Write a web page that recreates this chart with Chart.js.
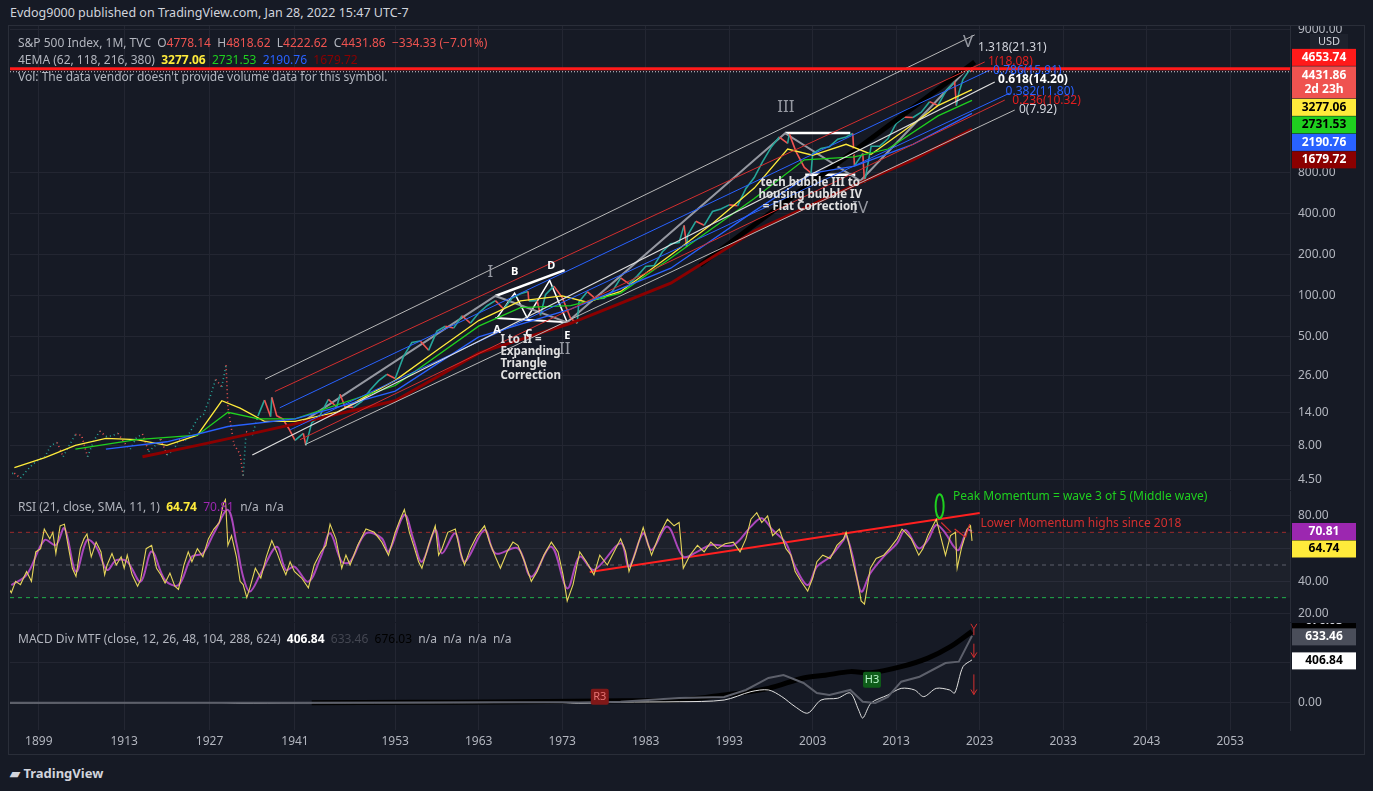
<!DOCTYPE html>
<html><head><meta charset="utf-8">
<script src="https://cdn.jsdelivr.net/npm/chart.js@4.4.1/dist/chart.umd.min.js"></script>
<style>
html,body{margin:0;padding:0;background:#161a25;width:1373px;height:791px;overflow:hidden;font-family:'Noto Sans',sans-serif;}
.cv{position:absolute;left:0;width:1373px;}
.t{position:absolute;color:#b2b5be;font-size:12px;white-space:nowrap;z-index:5;}
</style></head><body>
<div class="t" style="left:10px;top:4px;color:#d1d4dc;font-size:12.5px">Evdog9000 published on TradingView.com, Jan 28, 2022 15:47 UTC-7</div>
<div style="position:absolute;left:8px;top:25px;width:1357px;height:730px;border:1px solid #2a2e39;box-sizing:border-box;z-index:1;pointer-events:none"></div>
<div class="cv" style="top:25px;height:465px"><canvas id="cP"></canvas></div>
<div class="cv" style="top:491px;height:131px"><canvas id="cR"></canvas></div>
<div class="cv" style="top:623px;height:127px"><canvas id="cM"></canvas></div>
<div class="t" style="left:18px;top:34px">S&amp;P 500 Index, 1M, TVC&nbsp; O<span style="color:#ef5350">4778.14</span>&nbsp; H<span style="color:#ef5350">4818.62</span>&nbsp; L<span style="color:#ef5350">4222.62</span>&nbsp; C<span style="color:#ef5350">4431.86</span>&nbsp; <span style="color:#ef5350">−334.33 (−7.01%)</span></div>
<div class="t" style="left:18px;top:51px">4EMA (62, 118, 216, 380)&nbsp; <b style="color:#ffeb3b">3277.06</b>&nbsp; <span style="color:#1fd01f">2731.53</span>&nbsp; <span style="color:#2962ff">2190.76</span>&nbsp; <span style="color:#8b0000">1679.72</span></div>
<div class="t" style="left:18px;top:68px">Vol: The data vendor doesn't provide volume data for this symbol.</div>
<div class="t" style="left:18px;top:498px">RSI (21, close, SMA, 11, 1)&nbsp; <b style="color:#ffeb3b">64.74</b>&nbsp; <span style="color:#9c27b0">70.81</span>&nbsp; n/a&nbsp; n/a</div>
<div class="t" style="left:18px;top:630px">MACD Div MTF (close, 12, 26, 48, 104, 288, 624)&nbsp; <b style="color:#fff">406.84</b>&nbsp; <span style="color:#434651">633.46</span>&nbsp; <span style="color:#000">676.03</span>&nbsp; n/a&nbsp; n/a&nbsp; n/a&nbsp; n/a</div>
<div class="t" style="left:10px;top:764px;color:#d1d4dc;font-size:13px;font-weight:bold">▰ TradingView</div>
<script>
// ---------- DATA ----------
const xTickYears=[1899,1913,1927,1941,1953,1963,1973,1983,1993,2003,2013,2023,2033,2043,2053];
const priceTicks=[4.5,8,14,26,50,100,200,400,800,9000];
const priceYears=[1894,1895,1896,1897,1898,1899,1900,1901,1902,1903,1904,1905,1906,1907,1908,1909,1910,1911,1912,1913,1914,1915,1916,1917,1918,1919,1920,1921,1922,1923,1924,1925,1926,1927,1928,1929,1929.7,1930,1931,1932,1932.5,1933,1934,1935,1936,1937,1937.2,1938,1939,1940,1941,1942,1942.3,1943,1944,1945,1946,1946.4,1947,1948,1949,1950,1951,1952,1953,1954,1955,1956,1957,1958,1959,1960,1961,1962,1963,1964,1965,1966,1967,1968,1968.9,1969,1970,1970.4,1971,1972,1973,1974,1974.8,1975,1976,1977,1978,1979,1980,1981,1982,1983,1984,1985,1986,1987,1987.6,1987.9,1988,1989,1990,1991,1992,1993,1994,1995,1996,1997,1998,1999,2000,2000.2,2001,2002,2002.8,2003,2004,2005,2006,2007,2007.8,2008,2009,2009.2,2010,2011,2012,2013,2014,2015,2016,2017,2018,2019,2020,2020.2,2020.5,2021,2021.99,2022.08];
const priceValues=[4.9,5.0,4.6,5.2,5.8,6.3,6.6,8.0,8.4,6.6,8.0,9.6,9.5,6.6,8.6,10.2,9.3,9.4,9.8,8.4,7.5,9.1,9.7,7.2,7.9,8.9,6.8,7.3,8.8,8.7,10.4,12.5,13.5,17.7,24.4,21.5,31,15.3,8.1,6.9,4.8,10.1,9.5,13.4,17.2,13,18,13.2,12.5,10.6,8.7,9.8,8,11.7,13.3,17.4,15.3,19,15.3,15.2,16.8,20.4,23.8,26.6,24.8,36,45.5,46.7,39.9,55.2,59.9,58.1,71.6,63.1,75.0,84.8,92.4,80.3,96.5,103.9,108,92.1,92.2,72,102.1,118.1,97.6,68.6,63,90.2,107.5,95.1,96.1,107.9,135.8,122.6,140.6,164.9,167.2,211.3,242.2,247.1,330,230,277.7,353.4,330.2,417.1,435.7,466.5,459.3,615.9,740.7,970.4,1229.2,1469.3,1320.3,1550,1148.1,879.8,800,1111.9,1211.9,1248.3,1418.3,1468.4,1560,903.3,1115.1,680,1257.6,1257.6,1426.2,1848.4,2058.9,2043.9,2238.8,2673.6,2506.9,3230.8,3756.1,2500,3100,3900,4766.2,4431.86];
const emaYellowYears=[1895,1900,1905,1910,1915,1920,1925,1929,1932,1936,1941,1946,1953,1958,1963,1968,1973,1976,1980,1986,1991,1996,2000,2003,2007,2010,2014,2018,2022.08];
const emaYellow=[5.5,6.5,8,9,8.8,8,9.5,17,15,12,12,14,24,40,66,92,100,90,108,200,340,620,1200,1080,1300,1100,1650,2500,3277.06];
const emaGreenYears=[1905,1915,1925,1930,1935,1941,1953,1963,1968,1974,1980,1986,1996,2002,2008,2012,2018,2022.08];
const emaGreen=[7.5,8.8,9.5,14,12.5,12.5,22,60,82,85,105,190,520,1000,1050,1200,2100,2731.53];
const emaBlueYears=[1910,1920,1930,1941,1953,1963,1974,1986,1996,2003,2008,2015,2022.08];
const emaBlue=[7.5,8.5,11,12.5,20,50,80,160,420,800,900,1300,2190.76];
const emaRedYears=[1916,1925,1935,1941,1953,1963,1974,1986,1996,2008,2015,2022.08];
const emaRed=[6.6,8,10,11.5,17,38,63,124,300,650,1000,1679.72];
const fibWhite1318=[1936.1,24.5,2022.4,8260];
const fibRed1=[1937.7,19.9,2023.6,5230];
const fibBlue786=[1938.5,15.1,2024.2,4560];
const fibWhite618=[1934.0,6.8,2024.8,3730];
const fibBlue382=[1940.2,10.4,2026.6,3090];
const fibRed236=[1941.6,8.8,2026.0,2745];
const fibWhite0=[1942.2,8.1,2027.2,2320];
const blackTrend=[1989.5,169,2022.4,5230];
const waveYears=[1942,1965,1973.6,1999.7,2008.7,2021.7];
const wavePrices=[12,100,64,1570,700,4800];
const triYears=[1965.2,1967.3,1968.8,1971.5,1973.6];
const triPrices=[69,105,69,130,64];
const triUpper=[1965.0,100,1973.3,155];
const triLower=[1965.0,69,1973.6,64];
const flatUpper=[1999.7,1570,2007.5,1570];
const flatLower=[2002.1,775,2008.1,775];
const priceLevels=[4653.74,4431.86];
const priceTexts=[
 [1964.4,150,'I','#9598a1','normal 17px'],[1967.3,150,'B','#fff','bold 11px'],[1971.7,166,'D','#fff','bold 11px'],
 [1965.2,56.3,'A','#fff','bold 11px'],[1969.0,52.4,'C','#fff','bold 11px'],[1973.6,50.6,'E','#fff','bold 11px'],
 [1973.3,41,'II','#9598a1','normal 17px'],[1999.8,2444,'III','#9598a1','normal 17px'],[2008.7,443,'IV','#9598a1','normal 17px'],[2021.6,7350,'V','#9598a1','normal 17px']];
const multiTexts=[[1965.6,47.6,['I to II =','Expanding','Triangle','Correction'],'left'],[2002.7,676,['tech bubble III to','housing bubble IV','= Flat Correction'],'center']];
const fibTexts=[[2022.8,6720,'1.318(21.31)','#d1d4dc'],[2024.0,5230,'1(18.08)','#e01e1e'],[2024.6,4490,'0.786(15.91)','#2962ff'],[2025.2,3860,'0.618(14.20)','#ffffff'],[2026.1,3150,'0.382(11.80)','#2962ff'],[2026.9,2745,'0.236(10.32)','#e01e1e'],[2027.7,2320,'0(7.92)','#d1d4dc']];
// RSI
const rsiTicks=[20,40,60,80];
const rsiSmaYears=[1894.5,1897.0,1899.95,1901.8,1903.2,1905.1,1906.9,1908.4,1910.2,1911.7,1913.5,1915.7,1917.5,1919.7,1921.9,1924.1,1925.9,1927.7,1930.0,1931.4,1932.5,1933.6,1935.4,1938.0,1939.5,1940.9,1942.6,1944.1,1945.2,1946.6,1947.6,1949.5,1951.4,1952.2,1954.1,1955.2,1956.2,1957.8,1958.6,1960.2,1961.3,1963.7,1965.0,1967.7,1969.3,1971.7,1973.6,1975.1,1976.8,1980.0,1981.0,1982.7,1983.7,1985.6,1987.5,1989.2,1990.8,1993.5,1995.6,1996.9,1998.2,1999.8,2000.9,2002.4,2003.5,2005.1,2006.7,2007.0,2007.8,2008.8,2009.9,2011.5,2013.1,2014.1,2015.7,2016.8,2017.8,2018.9,2019.9,2020.5,2021.5,2022.08];
const rsiSma=[37.7,43.9,65.3,62.2,72.5,45.9,65.3,61.2,47,53,52,39.8,58.2,40.8,37.7,55.1,57.1,69.4,83.7,63.3,42.8,33.7,44.9,61.2,47,49,39.8,55.1,69.4,52,52,69.4,66.3,58.2,80.6,65.3,52,71.4,57.1,69.4,52,71.4,57.1,60.2,42.8,61.2,35.7,55.1,47,63.3,49,69.4,59.2,73.5,55.1,58.2,62.2,62.2,73.5,78.6,71.4,63.3,49,37.7,49,55.1,65.3,68.4,55.1,33.7,44.9,55.1,63.3,71.4,60.2,65.3,74.5,69.4,61.2,59.2,71.4,70.81];
const rsiYears=[1894.0,1894.5,1895.2,1896,1897,1897.8,1898.5,1899.3,1899.9,1900.8,1901.3,1901.8,1902.5,1903.2,1903.8,1904.5,1905.1,1905.8,1906.4,1906.9,1907.6,1908.4,1909.2,1909.8,1910.2,1911,1911.7,1912.5,1913,1913.5,1914.3,1915.2,1915.7,1916.6,1917.5,1918.3,1919,1919.7,1920.5,1921.3,1921.9,1922.8,1923.5,1924.1,1925,1925.9,1926.8,1927.7,1928.6,1929.3,1929.6,1930.0,1930.6,1931.4,1932.0,1932.5,1933.1,1933.6,1934.5,1935.4,1936.3,1937.2,1938.0,1938.8,1939.5,1940.2,1940.9,1941.8,1942.6,1943.3,1944.1,1944.7,1945.2,1945.9,1946.6,1947.1,1947.6,1948.5,1949.5,1950.5,1951.4,1952.2,1953.0,1953.6,1954.1,1954.7,1955.2,1955.8,1956.2,1957.0,1957.8,1958.2,1958.6,1959.3,1960.2,1960.8,1961.3,1962,1962.8,1963.7,1964.3,1965.0,1965.6,1966.4,1967.1,1967.7,1968.5,1969.3,1970.0,1970.8,1971.7,1972.5,1973.1,1973.6,1974.3,1975.1,1975.9,1976.8,1977.5,1978.4,1979.2,1980.0,1980.6,1981.0,1981.8,1982.7,1983.2,1983.7,1984.6,1985.6,1986.4,1987.0,1987.5,1988.3,1989.2,1990.0,1990.8,1991.6,1992.5,1993.5,1994.3,1995.0,1995.6,1996.3,1996.9,1997.6,1998.2,1999.0,1999.8,2000.4,2000.9,2001.6,2002.4,2003.0,2003.5,2004.2,2005.1,2005.9,2006.7,2007.0,2007.4,2007.8,2008.4,2008.8,2009.2,2009.9,2010.6,2011.5,2012.2,2013.1,2013.7,2014.1,2014.8,2015.7,2016.2,2016.8,2017.4,2017.8,2018.2,2018.9,2019.5,2020.1,2020.3,2020.8,2021.5,2021.9,2022.08];
const rsiValues=[36,33,40,38,46,40,58,60,72,66,70,57,74,75,62,48,43,60,66,69,55,64,58,44,50,57,50,55,48,56,44,37,41,60,62,48,44,39,45,37,35,50,58,52,60,55,66,72,76,88,90,62,68,55,40,38,30,36,48,42,55,65,58,50,44,52,46,42,36,50,58,62,75,66,48,56,50,62,72,70,64,56,70,78,84,70,62,52,48,62,74,56,60,70,72,58,50,60,68,74,64,55,48,58,64,62,52,40,46,56,64,58,44,28,38,58,52,44,56,50,58,66,58,46,58,73,64,56,68,78,74,76,48,56,62,58,64,60,63,64,58,66,78,82,76,80,68,72,60,56,46,40,34,42,52,56,54,62,66,70,62,52,40,28,26,48,54,56,60,66,72,70,66,56,60,68,74,78,70,56,68,70,48,60,72,74,64.74];
const rsiTrend=[1976.3,45.7,2023.0,81.8];
const rsiLevels=[70,50,30];
// MACD
const macdTicks=[0,380];
const macdBlackYears=[1943,1955,1965,1977.5,1987,1992.4,1997.7,2001.9,2004.5,2007.5,2010,2013.6,2016.8,2019.5,2022.08];
const macdBlack=[3,6,10,19,28,75,138,236,262,296,286,343,424,531,676.03];
const macdGrayYears=[1894,1920,1941,1955,1965,1973,1975,1980,1987,1992.4,1995,1997.7,1999.5,2001.9,2003.5,2005,2007.5,2009,2010.5,2012,2013.6,2015.8,2018.9,2020.5,2022.08];
const macdGray=[2,2,2,4,6,8,5,12,47,57,123,236,264,189,94,75,123,12,0,57,201,248,377,390,633.46];
const macdWhiteYears=[1894,1929,1932,1941,1960,1973,1975,1980,1987,1992.4,1995.6,1997.7,1999.3,2000.9,2002.4,2004,2006,2007.5,2008.5,2009,2010,2012,2013.6,2015.2,2016.3,2017.8,2019.4,2020,2021,2022.08];
const macdWhite=[1,3,-2,1,3,4,-3,8,12,28,107,123,60,-35,-96,28,45,94,-66,-142,0,75,138,123,60,138,123,94,343,406.84];
const macdMarks=[[1977.5,60,'R3','#801818','#e57373'],[2010.1,220,'H3','#0f5d1a','#b9f6ca']];

// ---------- HELPERS ----------
const FONT="'Noto Sans', sans-serif";
const GRID='#232632', TXT='#b2b5be';
function tx(y){return y>=1941?y:1941-(1941-y)*6.1/8.35;}
function fromTx(u){return u>=1941?u:1941-(1941-u)*8.35/6.1;}
const XMIN=1906.87, XMAX=2060.16;
function pts(xs,ys){return xs.map((x,i)=>({x:tx(x),y:ys[i]}));}
function seg(a){return [{x:tx(a[0]),y:a[1]},{x:tx(a[2]),y:a[3]}];}
function ln(data,color,w,extra){return Object.assign({data,borderColor:color,borderWidth:w,pointRadius:0,tension:0,fill:false},extra||{});}
function xAxis(show){return {type:'linear',min:XMIN,max:XMAX,
  afterBuildTicks:s=>{s.ticks=xTickYears.map(y=>({value:tx(y)}));},
  ticks:{display:show,autoSkip:false,maxRotation:0,color:TXT,font:{family:FONT,size:12},padding:4,callback:v=>Math.round(fromTx(v))},
  grid:{color:GRID,drawTicks:false},border:{display:false},
  afterFit:s=>{s.height=show?20:0;s.paddingLeft=0;s.paddingRight=0;}};}
function yAxis(extra){return Object.assign({position:'right',ticks:{color:TXT,font:{family:FONT,size:12},padding:8,autoSkip:false},
  grid:{color:GRID,drawTicks:false},border:{display:true,color:'#2a2e39'},afterFit:s=>{s.width=83;s.paddingTop=0;s.paddingBottom=0;}},extra);}
function box(ctx,y,txt,bg,fg,h){h=h||17;ctx.fillStyle=bg;ctx.fillRect(1292,y-h/2,64,h);ctx.fillStyle=fg;ctx.font='bold 12px '+FONT;ctx.textAlign='center';ctx.textBaseline='middle';
  const lines=txt.split('\n');lines.forEach((l,i)=>ctx.fillText(l,1324,y-(lines.length-1)*7+i*14));}
// stack boxes top-down so they do not overlap (like TradingView's price scale labels)
function stack(ctx,top,items){let y=top;items.forEach(it=>{const h=it[3]||17;box(ctx,y+h/2,it[0],it[1],it[2],h);y+=h+0.5;});}
const baseOpts=(scales)=>({responsive:false,animation:false,events:[],layout:{padding:{left:10,right:0,top:0,bottom:0}},
  plugins:{legend:{display:false},tooltip:{enabled:false}},scales});
function mk(id,h){const c=document.getElementById(id);c.width=1373;c.height=h;c.style.width='1373px';c.style.height=h+'px';return c;}
Chart.defaults.font.family=FONT;
const last=a=>a[a.length-1];

// ---------- PRICE ----------
const pdata=pts(priceYears,priceValues);
new Chart(mk('cP',465),{type:'line',data:{datasets:[
  ln(seg(fibWhite1318),'#b8b8b8',1),ln(seg(fibRed1),'#d32f2f',1),ln(seg(fibBlue786),'#2962ff',1),
  ln(seg(fibWhite618),'#e0e0e0',1.2),ln(seg(fibBlue382),'#2962ff',1),ln(seg(fibRed236),'#d32f2f',1),ln(seg(fibWhite0),'#b8b8b8',1),
  ln(pts(emaRedYears,emaRed),'#8b0000',3),ln(pts(emaBlueYears,emaBlue),'#2962ff',1.3),
  ln(pts(emaGreenYears,emaGreen),'#1fd01f',1.3),ln(pts(emaYellowYears,emaYellow),'#ffeb3b',1.3),
  ln(seg(blackTrend),'#000000',5),
  ln(pdata,'#26a69a',1.6,{segment:{borderColor:c=>c.p1.parsed.y<c.p0.parsed.y?'#ef5350':'#26a69a',
     borderDash:c=>fromTx(c.p0.parsed.x)<1935?[1,3]:undefined}}),
  ln(pts(waveYears,wavePrices),'#9598a1',2),
  ln(pts(triYears,triPrices),'#ffffff',1.5),ln(seg(triUpper),'#ffffff',2.5),ln(seg(triLower),'#ffffff',2),
  ln(seg(flatUpper),'#ffffff',2.5),ln(seg(flatLower),'#ffffff',2.5)
]},options:baseOpts({x:xAxis(false),y:yAxis({type:'logarithmic',min:3.76,max:9770,
   afterBuildTicks:s=>{s.ticks=priceTicks.map(v=>({value:v}));},ticks:{color:TXT,font:{family:FONT,size:12},padding:8,autoSkip:false,callback:v=>v.toFixed(2)}})}),
 plugins:[{id:'pa',afterDatasetsDraw(ch){const ctx=ch.ctx,xs=ch.scales.x,ys=ch.scales.y,a=ch.chartArea;
   ctx.save();
   ctx.strokeStyle='#ff1a1a';ctx.lineWidth=3;let y=ys.getPixelForValue(priceLevels[0]);ctx.beginPath();ctx.moveTo(a.left,y);ctx.lineTo(a.right,y);ctx.stroke();
   ctx.strokeStyle='#d1d4dc';ctx.lineWidth=1;ctx.setLineDash([1,2]);y=ys.getPixelForValue(priceLevels[1]);ctx.beginPath();ctx.moveTo(a.left,y);ctx.lineTo(a.right,y);ctx.stroke();ctx.setLineDash([]);
   ctx.textBaseline='middle';
   priceTexts.forEach(t=>{ctx.font=t[4]+' '+FONT;ctx.fillStyle=t[3];ctx.textAlign='center';ctx.fillText(t[2],xs.getPixelForValue(tx(t[0])),ys.getPixelForValue(t[1]));});
   multiTexts.forEach(t=>{ctx.font='bold 11.5px '+FONT;ctx.fillStyle='#e0e0e0';ctx.textAlign=t[3];const x=xs.getPixelForValue(tx(t[0])),y0=ys.getPixelForValue(t[1]);t[2].forEach((l,i)=>ctx.fillText(l,x,y0+i*12));});
   fibTexts.forEach(t=>{ctx.font=(t[3]=='#ffffff'?'bold ':'normal ')+'12px '+FONT;ctx.fillStyle=t[3];ctx.textAlign='left';ctx.fillText(t[2],xs.getPixelForValue(tx(t[0])),ys.getPixelForValue(t[1]));});
   ctx.restore();},
  afterDraw(ch){const ctx=ch.ctx,ys=ch.scales.y;ctx.save();
   ctx.fillStyle='#1e222d';ctx.fillRect(1310,9,38,15);ctx.fillStyle='#d1d4dc';ctx.font='11px '+FONT;ctx.textAlign='center';ctx.textBaseline='middle';ctx.fillText('USD',1329,17);
   stack(ctx,ys.getPixelForValue(priceLevels[0])-20,[
     [priceLevels[0].toFixed(2),'#ff1a1a','#fff'],
     [priceLevels[1].toFixed(2)+'\n2d 23h','#ef5350','#fff',32],
     [last(emaYellow).toFixed(2),'#ffeb3b','#000'],
     [last(emaGreen).toFixed(2),'#1fd01f','#000'],
     [last(emaBlue).toFixed(2),'#2962ff','#fff'],
     [last(emaRed).toFixed(2),'#8b0000','#fff']]);
   ctx.restore();}}]});

// ---------- RSI ----------
new Chart(mk('cR',131),{type:'line',data:{datasets:[
  ln(pts(rsiYears,rsiValues),'#e6d55a',1.1),ln(pts(rsiSmaYears,rsiSma),'#ab47bc',2,{tension:0.35}),ln(seg(rsiTrend),'#ff2020',2)
]},options:baseOpts({x:xAxis(false),y:yAxis({type:'linear',min:15.1,max:95.3,afterBuildTicks:s=>{s.ticks=rsiTicks.map(v=>({value:v}));},
   ticks:{color:TXT,font:{family:FONT,size:12},padding:8,callback:v=>v.toFixed(2)}})}),
 plugins:[{id:'ra',beforeDatasetsDraw(ch){const ctx=ch.ctx,ys=ch.scales.y,a=ch.chartArea;ctx.save();
   const y70=ys.getPixelForValue(rsiLevels[0]),y30=ys.getPixelForValue(rsiLevels[2]);ctx.fillStyle='rgba(255,255,255,0.03)';ctx.fillRect(a.left,y70,a.right-a.left,y30-y70);
   [['#9c2c2c',rsiLevels[0]],['#5d606b',rsiLevels[1]],['#22b14c',rsiLevels[2]]].forEach(d=>{ctx.strokeStyle=d[0];ctx.setLineDash([4,4]);ctx.lineWidth=1;const y=ys.getPixelForValue(d[1]);ctx.beginPath();ctx.moveTo(a.left,y);ctx.lineTo(a.right,y);ctx.stroke();});
   ctx.restore();},
  afterDatasetsDraw(ch){const ctx=ch.ctx,xs=ch.scales.x,ys=ch.scales.y;ctx.save();
   const ex=xs.getPixelForValue(tx(2018.2)),ey=ys.getPixelForValue(86);ctx.strokeStyle='#1fd01f';ctx.lineWidth=2;ctx.beginPath();ctx.ellipse(ex,ey,4,12,0,0,Math.PI*2);ctx.stroke();
   ctx.strokeStyle='#d32f2f';ctx.lineWidth=1.2;const p=(yr,v)=>[xs.getPixelForValue(tx(yr)),ys.getPixelForValue(v)];
   [[[2018.4,76],[2019.6,70]],[[2020.0,72],[2021.3,67]],[[2021.3,67],[2021.8,75]]].forEach(s=>{const a=p(...s[0]),b=p(...s[1]);ctx.beginPath();ctx.moveTo(a[0],a[1]);ctx.lineTo(b[0],b[1]);ctx.stroke();});
   ctx.font='12px '+FONT;ctx.textAlign='left';ctx.textBaseline='middle';
   ctx.fillStyle='#1fd01f';ctx.fillText('Peak Momentum = wave 3 of 5 (Middle wave)',...p(2019.8,92));
   ctx.fillStyle='#d32f2f';ctx.fillText('Lower Momentum highs since 2018',...p(2023.1,75.5));
   ctx.restore();},
  afterDraw(ch){const ctx=ch.ctx,ys=ch.scales.y;ctx.save();
   stack(ctx,ys.getPixelForValue(last(rsiSma))-8,[[last(rsiSma).toFixed(2),'#9c27b0','#fff'],[last(rsiValues).toFixed(2),'#ffeb3b','#000']]);
   ctx.restore();}}]});

// ---------- MACD ----------
new Chart(mk('cM',127),{type:'line',data:{datasets:[
  ln(pts(macdGrayYears,macdGray),'#5d606b',2),ln(pts(macdWhiteYears,macdWhite),'#e0e0e0',1,{tension:0.3}),ln(pts(macdBlackYears,macdBlack),'#000000',5,{tension:0.3})
]},options:baseOpts({x:xAxis(true),y:yAxis({type:'linear',min:-255,max:755,afterBuildTicks:s=>{s.ticks=macdTicks.map(v=>({value:v}));},
   ticks:{color:TXT,font:{family:FONT,size:12},padding:8,callback:v=>v===0?v.toFixed(2):''}})}),
 plugins:[{id:'ma',afterDatasetsDraw(ch){const ctx=ch.ctx,xs=ch.scales.x,ys=ch.scales.y;ctx.save();
   macdMarks.forEach(m=>{const x=xs.getPixelForValue(tx(m[0])),y=ys.getPixelForValue(m[1]);ctx.fillStyle=m[3];ctx.beginPath();ctx.roundRect(x-9,y-8,18,16,2);ctx.fill();ctx.fillStyle=m[4];ctx.font='11px '+FONT;ctx.textAlign='center';ctx.textBaseline='middle';ctx.fillText(m[2],x,y);});
   ctx.strokeStyle='#d32f2f';ctx.lineWidth=1;[[640,700],[560,430],[270,80]].forEach(v=>{const x=xs.getPixelForValue(tx(2022.3)),y0=ys.getPixelForValue(v[0]),y1=ys.getPixelForValue(v[1]);
     ctx.beginPath();ctx.moveTo(x,y0);ctx.lineTo(x,y1);ctx.moveTo(x-3,y1-5);ctx.lineTo(x,y1);ctx.lineTo(x+3,y1-5);ctx.stroke();});
   ctx.restore();},
  afterDraw(ch){const ctx=ch.ctx,ys=ch.scales.y;ctx.save();
   box(ctx,ys.getPixelForValue(last(macdBlack))-11,last(macdBlack).toFixed(2),'#000','#d1d4dc');
   box(ctx,ys.getPixelForValue(last(macdGray))+1,last(macdGray).toFixed(2),'#4a4e5a','#fff');
   box(ctx,ys.getPixelForValue(last(macdWhite))+1,last(macdWhite).toFixed(2),'#ffffff','#000');ctx.restore();}}]});
</script></body></html>
